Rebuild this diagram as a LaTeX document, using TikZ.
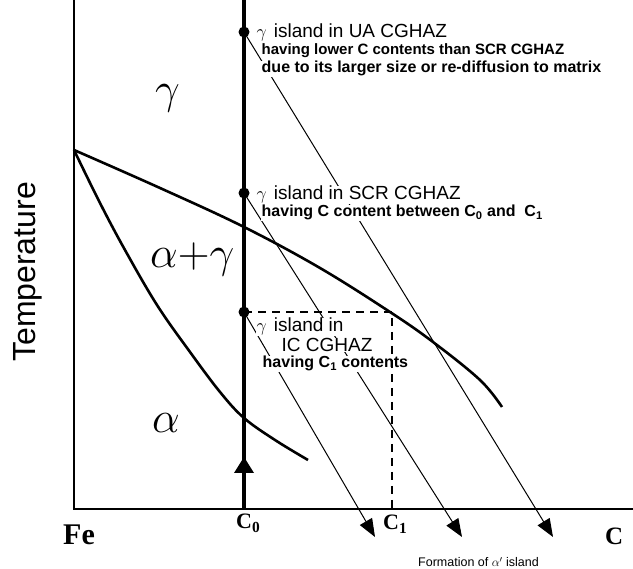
\RequirePackage{fix-cm}
\documentclass[tikz,border=0pt]{standalone}
\usepackage{fontspec}
\setmainfont{Liberation Sans}
\newfontfamily\serifgr{Liberation Serif}
\usetikzlibrary{arrows.meta}
\newcommand\hdfont{\fontsize{19}{22}\selectfont}
\newcommand\sbfont{\fontsize{16}{18}\selectfont\bfseries}
\newcommand\grfont{\fontsize{44}{48}\selectfont}
\newcommand\axfont{\serifgr\bfseries\fontsize{25}{28}\selectfont}
\newcommand\sg{{\fontsize{18}{20}\selectfont$\gamma$}\hspace{7pt}}
\tikzset{
  axisline/.style={line width=2.2pt},
  cline/.style={line width=3.2pt},
  curveline/.style={line width=2.6pt, line join=round},
  leader/.style={line width=1pt, -{Triangle[length=18pt,width=14pt]}},
  dot/.style={circle, fill=black, inner sep=0pt, minimum size=11pt},
  head/.style={font=\hdfont, anchor=base west, inner sep=0.5pt, fill=white},
  sub/.style={font=\sbfont, anchor=base west, inner sep=0.5pt, fill=white, text height=11.5pt},
  greek/.style={font=\grfont, anchor=base west, inner sep=0pt},
  axlabel/.style={font=\axfont, anchor=base west, inner sep=0pt},
  dashline/.style={line width=1.6pt, dash pattern=on 8pt off 6pt},
}
\begin{document}
\begin{tikzpicture}[x=1pt,y=-1pt]
\useasboundingbox (0,0) rectangle (633,569);
% axes
\coordinate (top0) at (74,0);
\coordinate (orig) at (74,509);
\coordinate (xend) at (633,509);
\coordinate (ctop) at (244,0);
\coordinate (cfoot) at (244,509);
\draw[axisline] (top0) -- (orig) -- (xend);
% phase boundaries
\draw[curveline] plot[smooth, tension=0.6] coordinates {(74,150) (160,188) (244,227) (320,268) (390,312) (433,342) (480,380) (502,407)};
\draw[curveline] plot[smooth, tension=0.6] coordinates {(74,150) (100,203) (125,250) (157,305) (190,352) (220,392) (244,418) (275,440) (308,460)};
% C0 line
\draw[cline] (ctop) -- (cfoot);
\fill (234,473) -- (244,457) -- (254,473) -- cycle;
% dots
\node[dot] (dUA) at (244,32) {};
\node[dot] (dSCR) at (244,193) {};
\node[dot] (dIC) at (244,312) {};
% arrow tips
\coordinate (tIC) at (375,537);
\coordinate (tSCR) at (462,537);
\coordinate (tUA) at (553,537);
\draw[leader] (dUA.center) -- (tUA);
\draw[leader] (dSCR.center) -- (tSCR);
\draw[leader] (dIC.center) -- (tIC);
% labels
\node[head] (hUA) at (256,38) {\sg island in UA CGHAZ};
\node[sub, font=\fontsize{15}{18}\selectfont\bfseries] (sUA1) at (261,55) {having lower C contents than SCR CGHAZ};
\node[sub] (sUA2) at (261,73) {due to its larger size or re-diffusion to matrix};
\node[head] (hSCR) at (256,200) {\sg island in SCR CGHAZ};
\node[sub] (sSCR) at (261,217) {having C content between C\textsubscript{0} and\ \ C\textsubscript{1}};
\node[head] (hIC1) at (256,332) {\sg island in};
\node[head, text depth=0pt] (hIC2) at (281,352) {IC CGHAZ};
\node[sub] (sIC) at (262,368) {having C\textsubscript{1} contents};
% dashed construction line
\coordinate (corner) at (392,312);
\coordinate (c1foot) at (392,509);
\draw[dashline] (dIC.center) -- (corner) -- (c1foot);
% phase labels
\node[greek] (gam) at (155,104) {$\gamma$};
\node[greek] (ag) at (150,268) {$\alpha{+}\gamma$};
\node[greek] (alp) at (152,433) {$\alpha$};
% axis labels
\node[font=\fontsize{32}{36}\selectfont, rotate=90, inner sep=0pt] (temp) at (28,272) {Temperature};
\node[axlabel, font=\serifgr\bfseries\fontsize{30}{32}\selectfont] (fe) at (63,545) {Fe};
\node[axlabel, font=\serifgr\bfseries\fontsize{22}{24}\selectfont] (c0) at (236,529) {C\textsubscript{0}};
\node[axlabel, font=\serifgr\bfseries\fontsize{22}{24}\selectfont] (c1) at (383,530) {C\textsubscript{1}};
\node[axlabel] (cc) at (605,545) {C};
\node[anchor=base west, inner sep=0pt, font=\fontsize{12.5}{15}\selectfont] (form) at (418,567) {Formation of $\alpha'$ island};
\end{tikzpicture}
\end{document}
